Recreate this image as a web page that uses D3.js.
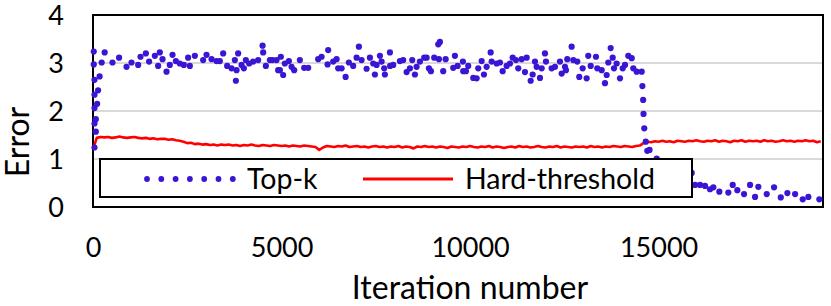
<!DOCTYPE html>
<html><head><meta charset="utf-8">
<script src="https://cdn.jsdelivr.net/npm/d3@7"></script>
<style>
body{margin:0;background:#fff}
svg{display:block}
text{font-family:Lato,"Open Sans",sans-serif;fill:#000}
</style>
</head><body><svg id="c" width="831" height="306"></svg>
<script>
// ---- data ----
const topkIter = [20,20,40,40,40,40,40,75,75,110,135,175,230,310,
517,692,889,1021,1197,1260,1401,1488,1640,1727,1772,1844,1950,2037,2109,2197,2303,2409,2523,2568,2701,2921,3011,3144,3276,3364,3452,3558,3674,3762,3789,3807,3849,3940,4001,4054,4141,4247,4380,4497,4513,4584,4691,4762,4911,
4868,4982,4956,5043,5088,5195,5266,5335,5486,5600,5707,5972,6062,6237,6221,6370,6460,6502,6593,6699,6786,6900,6991,7052,7123,7256,7344,7431,7521,7476,7609,7654,7723,7741,7874,7880,7962,8139,8227,8317,8405,8466,8537,8582,8670,8784,8848,8909,8962,9049,9156,9201,9174,9288,9352,9553,9598,9670,9819,
9810,9890,9951,10084,10174,10217,10307,10368,10439,10546,10572,10705,10792,10864,10970,11058,11130,11217,11278,11368,11456,11501,11607,11660,11721,11766,11854,11899,11986,12013,12164,12252,12384,12429,12517,12578,12543,12694,12737,12843,12896,12986,13092,13135,13199,13339,13374,13490,13578,13623,13666,13729,13782,13817,13888,13976,14048,14109,14196,14287,14329,14419,
14552,14570,14590,14600,14620,14660,14700,14760,14950,
15090,15250,15435,15621,15780,15878,
15966,16099,16231,16364,16452,16611,16849,16966,17088,17266,17425,17558,17645,17868,18062,18240,18415,18620,18823,18972,19263];
const topkErr = [3.24,2.97,2.65,2.34,2.06,1.74,1.24,1.57,1.83,2.15,2.43,2.72,3.01,3.22,
3.01,3.11,2.92,3.01,2.96,3.13,3.20,3.03,3.15,2.94,3.22,3.08,2.82,2.96,3.17,3.04,2.99,2.96,3.11,2.94,3.15,3.06,3.17,3.08,3.04,3.04,3.20,2.94,2.89,3.06,2.63,2.85,3.20,2.96,2.89,3.06,2.99,3.03,3.06,3.36,3.22,2.94,3.06,3.06,2.85,
3.06,3.13,2.85,2.75,2.99,3.04,2.92,2.85,3.06,2.90,2.90,3.08,3.13,3.27,2.97,3.03,3.08,2.89,2.89,2.71,3.01,2.94,3.11,3.34,3.06,2.88,3.11,2.99,2.96,2.76,3.15,3.03,2.89,2.76,3.22,2.94,2.96,3.04,3.06,2.81,2.89,3.06,2.76,2.92,3.03,3.11,3.11,2.89,2.83,3.11,3.39,3.44,3.08,2.83,3.08,2.90,3.15,2.94,2.83,
3.03,2.83,2.94,2.69,2.68,2.89,3.04,2.76,2.92,3.22,3.03,2.99,3.01,2.83,2.94,2.99,3.11,3.06,2.89,3.08,2.81,3.11,2.63,2.76,3.03,2.92,2.69,2.89,3.20,3.03,2.89,2.92,3.03,2.78,2.92,3.08,2.85,3.34,3.06,3.03,2.71,2.89,2.68,3.15,2.94,3.13,2.89,2.85,2.58,2.75,3.01,3.31,3.11,2.89,2.99,2.68,2.89,2.96,3.15,3.10,2.89,2.82,
2.82,2.52,2.23,1.94,1.64,1.36,1.17,1.19,1.01,
0.95,0.90,0.84,0.78,0.74,0.71,
0.46,0.46,0.44,0.37,0.41,0.32,0.30,0.46,0.35,0.27,0.46,0.21,0.42,0.27,0.41,0.20,0.29,0.27,0.16,0.21,0.16];

const hardStep = 100; // logged every 100 iterations
const hardErr = [
1.20,1.44,1.46,1.45,1.46,1.44,1.45,1.47,1.45,1.44,
1.45,1.46,1.44,1.43,1.44,1.42,1.43,1.41,1.42,1.42,
1.40,1.41,1.39,1.38,1.36,1.33,1.34,1.31,1.32,1.30,
1.31,1.29,1.30,1.28,1.30,1.29,1.30,1.28,1.29,1.27,
1.29,1.28,1.30,1.28,1.27,1.29,1.28,1.27,1.29,1.28,
1.27,1.28,1.26,1.28,1.27,1.26,1.28,1.27,1.26,1.25,
1.19,1.24,1.27,1.26,1.25,1.27,1.26,1.28,1.25,1.26,
1.27,1.25,1.26,1.24,1.26,1.27,1.25,1.26,1.24,1.26,
1.25,1.27,1.24,1.26,1.25,1.22,1.26,1.25,1.27,1.25,
1.26,1.24,1.26,1.25,1.23,1.26,1.25,1.24,1.26,1.25,
1.27,1.25,1.24,1.26,1.25,1.27,1.24,1.26,1.25,1.23,
1.25,1.26,1.24,1.27,1.25,1.26,1.24,1.25,1.27,1.25,
1.24,1.26,1.25,1.27,1.24,1.26,1.25,1.24,1.26,1.25,
1.26,1.24,1.27,1.25,1.26,1.24,1.26,1.25,1.27,1.26,
1.25,1.27,1.26,1.25,1.27,1.28,1.33,1.36,1.35,1.37,
1.36,1.38,1.36,1.37,1.35,1.38,1.37,1.36,1.38,1.37,
1.39,1.37,1.36,1.38,1.37,1.39,1.36,1.38,1.37,1.35,
1.38,1.37,1.39,1.36,1.38,1.37,1.38,1.36,1.39,1.37,
1.38,1.36,1.37,1.39,1.37,1.38,1.36,1.38,1.37,1.39,
1.37,1.38,1.35,1.37];

const xTicks = [0,5000,10000,15000];
const yTicks = [0,1,2,3,4];
const gridValues = [1,2,3];
const seriesNames = ["Top-k","Hard-threshold"];
const xTitle = "Iteration number";
const yTitle = "Error";
const xMax = 19360;

// ---- drawing ----
const svg = d3.select("#c");
const L=93,R=823,T=15,B=207;
const x = d3.scaleLinear().domain([0,xMax]).range([L,R]);
const y = d3.scaleLinear().domain([0,4]).range([B,T]);
const blue = "#3c14d4", red = "#ff0000";

svg.append("rect").attr("width",831).attr("height",306).attr("fill","#fff");

// gridlines
svg.append("g").selectAll("line").data(gridValues).join("line")
  .attr("x1",L).attr("x2",R).attr("y1",d=>y(d)).attr("y2",d=>y(d))
  .attr("stroke","#d9d9d9").attr("stroke-width",2);

// axes
const ya = svg.append("g").attr("transform",`translate(${L},0)`)
  .call(d3.axisLeft(y).tickValues(yTicks).tickFormat(d3.format("d")).tickSize(0).tickPadding(29));
const xa = svg.append("g").attr("transform",`translate(0,${B})`)
  .call(d3.axisBottom(x).tickValues(xTicks).tickFormat(d3.format("d")).tickSize(0).tickPadding(31));
[ya,xa].forEach(g=>{
  g.select(".domain").remove();
  g.selectAll("text").attr("font-family","Lato,'Open Sans',sans-serif").attr("font-size",27).attr("fill","#000");
});
ya.selectAll("text").attr("dy","0.34em");

// frame
svg.append("rect").attr("x",L).attr("y",T).attr("width",R-L).attr("height",B-T)
  .attr("fill","none").attr("stroke","#000").attr("stroke-width",2);

// hard-threshold line
const hardData = hardErr.map((v,i)=>[i*hardStep, v]);
svg.append("path").datum(hardData)
  .attr("fill","none").attr("stroke",red).attr("stroke-width",2.6).attr("stroke-linejoin","round")
  .attr("d", d3.line().x(d=>x(d[0])).y(d=>y(d[1])));

// top-k points
svg.append("g").selectAll("circle").data(topkIter.map((it,i)=>[it, topkErr[i]])).join("circle")
  .attr("cx",d=>x(d[0])).attr("cy",d=>y(d[1])).attr("r",3.1).attr("fill",blue);

// legend
const lg = svg.append("g");
lg.append("rect").attr("x",100).attr("y",159).attr("width",592).attr("height",38)
  .attr("fill","#fff").attr("stroke","#000").attr("stroke-width",2);
lg.selectAll("circle").data(d3.range(7)).join("circle")
  .attr("cx",d=>147+d*14.3).attr("cy",179).attr("r",2.9).attr("fill",blue);
lg.append("text").attr("x",247).attr("y",189).attr("font-size",28.5).text(seriesNames[0]);
lg.append("line").attr("x1",363).attr("x2",453).attr("y1",179).attr("y2",179)
  .attr("stroke",red).attr("stroke-width",3);
lg.append("text").attr("x",465).attr("y",189).attr("font-size",28.5).text(seriesNames[1]);

// titles
svg.append("text").attr("x",470).attr("y",299).attr("text-anchor","middle").attr("font-size",32).text(xTitle);
svg.append("text").attr("transform","translate(29,142) rotate(-90)").attr("text-anchor","middle").attr("font-size",32).text(yTitle);
</script>
</body></html>
